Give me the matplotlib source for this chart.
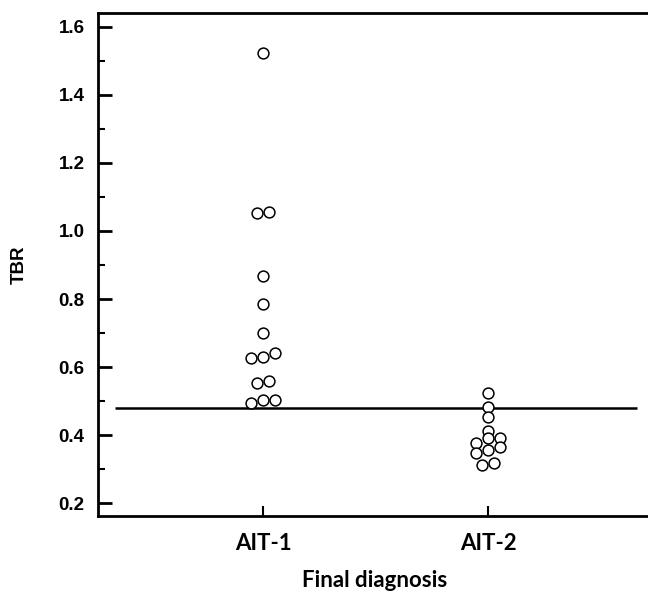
import matplotlib
matplotlib.use("Agg")
import matplotlib.pyplot as plt
import numpy as np

# TBR values
groups = ["AIT-1", "AIT-2"]
ait1 = [1.523, 1.053, 1.057, 0.868, 0.785, 0.700, 0.627, 0.630, 0.642,
        0.554, 0.560, 0.495, 0.504, 0.505]
ait2 = [0.524, 0.483, 0.454, 0.413, 0.391, 0.392, 0.377, 0.365, 0.356,
        0.348, 0.318, 0.312]
cutoff = 0.48
yticks = [0.2, 0.4, 0.6, 0.8, 1.0, 1.2, 1.4, 1.6]


def dot_offsets(vals, step=0.053, gap=0.02):
    # group close values into rows, spread each row side by side
    vals = np.sort(np.asarray(vals))[::-1]
    rows = [[vals[0]]]
    for v in vals[1:]:
        if rows[-1][0] - v < gap:
            rows[-1].append(v)
        else:
            rows.append([v])
    xs, ys = [], []
    for row in rows:
        row = sorted(row)
        n = len(row)
        for i, v in enumerate(row):
            xs.append((i - (n - 1) / 2) * step)
            ys.append(v)
    return np.array(xs), np.array(ys)


fig = plt.figure(figsize=(6.48, 5.95), dpi=100)
ax = fig.add_axes([98.3 / 648, 1 - 516 / 595, (650 - 98.3) / 648, (516 - 13.3) / 595])

for k, vals in enumerate([ait1, ait2]):
    dx, yy = dot_offsets(vals)
    ax.plot(k + 1 + dx, yy, 'o', ms=7.8, mfc='white', mec='black', mew=1.1,
            linestyle='none', zorder=3)

ax.hlines(cutoff, 0.34, 2.66, color='black', lw=1.8, zorder=2)

ax.set_xlim(0.268, 2.72)
ax.set_ylim(0.163, 1.639)

ax.spines['right'].set_visible(False)
for s in ['left', 'top', 'bottom']:
    ax.spines[s].set_linewidth(2)

ax.set_yticks(yticks)
ax.set_yticklabels(["%.1f" % t for t in yticks], fontfamily='Liberation Sans',
                   fontweight='bold', fontsize=13.5)
ax.set_yticks(np.arange(0.3, 1.6, 0.2), minor=True)
ax.tick_params(axis='y', which='major', direction='in', length=10, width=2, pad=10)
ax.tick_params(axis='y', which='minor', direction='in', length=5, width=1.5)

ax.set_xticks([1, 2])
ax.set_xticklabels(groups, fontfamily='Lato', fontweight='bold', fontsize=16)
ax.tick_params(axis='x', direction='in', length=7, width=1.5, pad=12)

ax.set_ylabel("TBR", fontfamily='Liberation Sans', fontweight='bold', fontsize=13.5,
              labelpad=22)
ax.set_xlabel("Final diagnosis", fontfamily='Lato', fontweight='bold', fontsize=16,
              labelpad=12)

fig.savefig("out.png", dpi=100)
